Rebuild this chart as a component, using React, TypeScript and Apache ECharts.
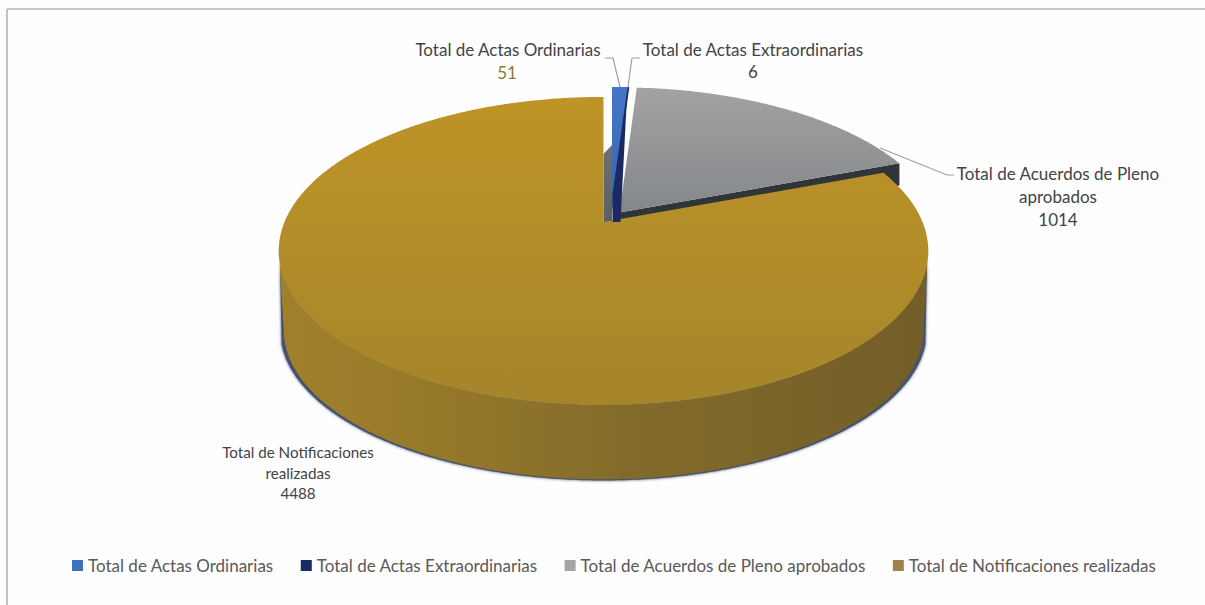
import React, { useEffect, useRef } from "react";
import * as echarts from "echarts";

const categories = [
  "Total de Actas Ordinarias",
  "Total de Actas Extraordinarias",
  "Total de Acuerdos de Pleno aprobados",
  "Total de Notificaciones realizadas",
];
const values = [51, 6, 1014, 4488];
const legendColors = ["#3F70BE", "#1C2A63", "#A5A5A5", "#9F8150"];

const total = values.reduce((a, b) => a + b, 0);
const starts = values.map((_, i) => values.slice(0, i).reduce((a, b) => a + b, 0));
const angle = (v: number) => (v / total) * 2 * Math.PI;

// perspective projection of the pie disc
const K = 0.188;
const AX = 319;
const AY = 148.6;
const CX = 603.5;
const CY = 222;

type Disc = { cx: number; cy: number; ax: number; ay: number };
const topDisc: Disc = { cx: CX, cy: CY, ax: AX, ay: AY };
const bottomDisc: Disc = { cx: CX, cy: CY + 80, ax: 314, ay: 144 };
const shadowDisc: Disc = { cx: CX, cy: CY + 80.5, ax: 317.5, ay: 144.5 };

function pt(d: Disc, t: number): number[] {
  const u = Math.sin(t);
  const v = Math.cos(t);
  const w = 1 + K * v;
  return [d.cx + (d.ax * u) / w, d.cy - (d.ay * v) / w];
}
function arc(d: Disc, a: number, b: number): number[][] {
  const n = Math.max(2, Math.ceil(Math.abs(b - a) / 0.01));
  const out: number[][] = [];
  for (let i = 0; i <= n; i++) out.push(pt(d, a + ((b - a) * i) / n));
  return out;
}
const vGrad = (a: string, b: string) => new echarts.graphic.LinearGradient(0, 0, 0, 1, [
  { offset: 0, color: a },
  { offset: 1, color: b },
]);

const explode = [
  { dx: 8.5, dy: -10 },
  { dx: 8.5, dy: -10 },
  { dx: 16, dy: -9.5 },
  { dx: 0, dy: 0 },
];
const topFills = [
  () => vGrad("#4377C6", "#3A66AC"),
  () => "#1C2A63",
  () => vGrad("#A2A2A3", "#84878A"),
  () => vGrad("#BE9426", "#A5852B"),
];

const FONT = "Lato";
const TEXT = "#404446";
function label(text: string, x: number, y: number, size: number, fill = TEXT) {
  return {
    type: "text",
    style: { text, x, y, fill, fontFamily: FONT, fontSize: size, align: "center", verticalAlign: "middle" },
  };
}
function leader(points: number[][]) {
  return {
    type: "polyline",
    shape: { points },
    style: { stroke: "#A79E94", lineWidth: 1.2, fill: "none" },
  };
}
const labelSets: any[][] = [
  [label(categories[0], 508, 49, 17), label(String(values[0]), 507, 72, 17, "#8A7A38"), leader([[605, 58], [613, 58], [620, 87]])],
  [label("Total de Actas Extraordinarias", 753, 49, 17), label(String(values[1]), 753, 71, 17), leader([[640, 58], [632, 58], [628, 87]])],
  [label("Total de Acuerdos de Pleno", 1058, 173, 17), label("aprobados", 1058, 196, 17), label(String(values[2]), 1058, 219, 17), leader([[880, 148], [947, 175], [954, 175]])],
  [label("Total de Notificaciones", 298, 452, 15.2), label("realizadas", 298, 473, 15.2), label(String(values[3]), 298, 493, 15.2)],
];

function wallsItem(params: any, api: any) {
  const i = params.dataIndex;
  const b = angle(starts[i] + api.value(0));
  const e = explode[i];
  const d: Disc = { ...topDisc, cx: CX + e.dx, cy: CY + e.dy };
  if (i === 3) {
    const sideA = 1.85;
    const sideB = 2 * Math.PI - 1.85;
    return {
      type: "group",
      children: [
        {
          type: "polygon",
          shape: { points: [...arc(topDisc, sideA, sideB), ...arc(shadowDisc, sideB, sideA)] },
          style: { fill: "#46536A", shadowColor: "#46536A", shadowBlur: 3 },
        },
        {
          type: "polygon",
          shape: { points: [...arc(topDisc, 1.76, 2 * Math.PI - 1.76), ...arc(bottomDisc, 2 * Math.PI - 1.76, 1.76)] },
          style: {
            fill: new echarts.graphic.LinearGradient(0, 0, 1, 0, [
              { offset: 0, color: "#A0802A" },
              { offset: 0.3, color: "#93762A" },
              { offset: 0.55, color: "#816A2A" },
              { offset: 1, color: "#745E28" },
            ]),
          },
        },
      ],
    };
  }
  if (i === 2) {
    const apex = [d.cx, d.cy];
    const corner = pt(d, b);
    return {
      type: "polygon",
      shape: { points: [apex, corner, [corner[0], corner[1] + 22], [corner[0] - 20, corner[1] + 30], [apex[0], apex[1] + 25]] },
      style: { fill: "#2F3538" },
    };
  }
  if (i === 0) {
    // inner dark face seen through the gap between gold and blue
    const x0 = pt(topDisc, 0)[0];
    const x1 = pt(d, 0)[0];
    return {
      type: "polygon",
      shape: { points: [[x0, CY], [x0, CY - 68], [x1, CY - 77], [x1, CY]] },
      style: { fill: vGrad("#6E7072", "#5C5E60") },
    };
  }
  return { type: "group", children: [] };
}

function explodedOuter(): Disc {
  return { ...topDisc, cx: CX + explode[0].dx, cy: CY + explode[0].dy };
}

function topItem(i: number) {
  return (_params: any, api: any) => {
    const a = angle(starts[i]);
    const b = angle(starts[i] + api.value(0));
    const e = explode[i];
    const d: Disc = { ...topDisc, cx: CX + e.dx, cy: CY + e.dy };
    const apex = [d.cx, d.cy];
    const children: any[] = [];
    children.push({
      type: "polygon",
      shape: { points: [apex, ...arc(d, a, b)] },
      style: { fill: topFills[i]() },
    });
    if (i === 1) {
      // navy wedge with its cut face
      const outer = pt(explodedOuter(), a);
      children.push({
        type: "polygon",
        shape: { points: [outer, [apex[0] + 0.5, apex[1] - 17], [apex[0] + 0.5, apex[1] + 10], [apex[0] + 8.5, apex[1] + 10]] },
        style: { fill: "#1C2A63" },
      });
    }
    children.push(...labelSets[i]);
    return { type: "group", children };
  };
}

const order = [3, 2, 0, 1];

export default function App() {
  const ref = useRef<HTMLDivElement>(null);
  useEffect(() => {
    document.body.style.margin = "0";
    const chart = echarts.init(ref.current!, undefined, { renderer: "svg" });
    chart.setOption({
      animation: false,
      backgroundColor: "#FEFEFE",
      legend: {
        data: categories,
        left: 67,
        top: 552,
        icon: "rect",
        itemWidth: 11,
        itemHeight: 11,
        itemGap: 27,
        textStyle: { fontFamily: FONT, fontSize: 17, color: "#595959" },
        selectedMode: false,
      },
      graphic: [
        { type: "line", shape: { x1: 7, y1: 9, x2: 1205, y2: 9 }, style: { stroke: "#B4B4B4", lineWidth: 1.6 } },
        { type: "line", shape: { x1: 7, y1: 9, x2: 7, y2: 605 }, style: { stroke: "#B4B4B4", lineWidth: 1.6 } },
      ],
      series: [
        {
          type: "custom",
          name: "Caras",
          coordinateSystem: "none",
          silent: true,
          data: [3, 2, 0].map((i) => ({ value: [values[i]] })),
          renderItem: (p: any, api: any) => wallsItem({ dataIndex: [3, 2, 0][p.dataIndex] }, api),
        },
        ...order.map((i) => ({
          type: "custom",
          name: categories[i],
          coordinateSystem: "none",
          silent: true,
          itemStyle: { color: legendColors[i] },
          data: [[values[i]]],
          renderItem: topItem(i),
        })),
      ],
    });
    return () => chart.dispose();
  }, []);
  return <div ref={ref} style={{ width: 1205, height: 605 }} />;
}
